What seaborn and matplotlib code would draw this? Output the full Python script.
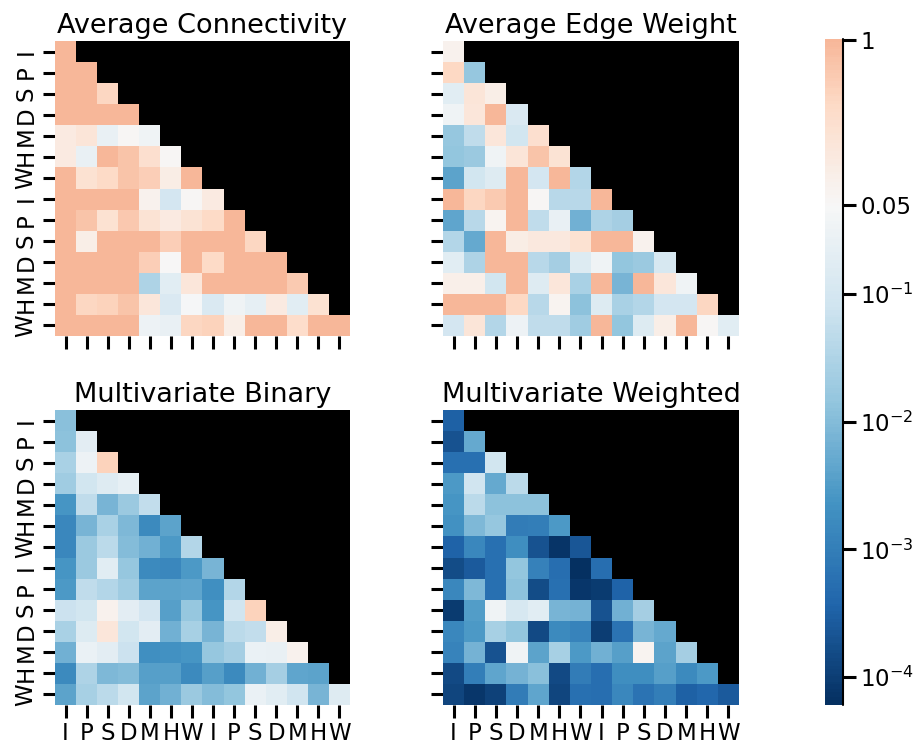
import numpy as np
import matplotlib
matplotlib.use("Agg")
import matplotlib.pyplot as plt
import seaborn as sns

sns.set_theme(context="talk", style="ticks")
plt.rcParams["font.family"] = ["DejaVu Sans"]
for key in ["text.color", "axes.labelcolor", "xtick.color", "ytick.color"]:
    plt.rcParams[key] = "black"

# Region labels along both axes (two hemispheres)
regions = ["I", "P", "S", "D", "M", "H", "W", "I", "P", "S", "D", "M", "H", "W"]

# Lower-triangle scores (colour-bar units), one list per row
avg_connectivity = [
    [1.0],
    [1.0, 1.0],
    [1.0, 1.0, 0.55],
    [1.0, 1.0, 1.0, 1.0],
    [0.05, 0.2, -0.6, -0.25, -0.45],
    [0.05, -0.6, 1.0, 0.8, 0.35, -0.25],
    [1.0, 0.3, 0.45, 0.8, 0.65, 0.0, 1.0],
    [1.0, 1.0, 1.0, 1.0, -0.15, -1.0, -0.25, 0.05],
    [1.0, 0.8, 0.3, 0.75, 0.25, 0.05, 0.25, 0.45, 1.0],
    [1.0, -0.05, 1.0, 1.0, 1.0, 0.65, 1.0, 1.0, 1.0, 0.55],
    [1.0, 1.0, 1.0, 1.0, 0.65, -0.3, 1.0, 0.45, 1.0, 1.0, 1.0],
    [1.0, 1.0, 1.0, 1.0, -1.5, -0.75, 0.15, 1.0, 1.0, 1.0, 1.0, 0.7],
    [1.0, 0.55, 0.6, 0.8, 0.15, -0.9, -0.35, -0.9, -0.45, -0.65, 0.05, -0.75, 0.3],
    [1.0, 1.0, 1.0, 1.0, -0.5, -0.6, 0.55, 0.6, -0.05, 1.0, 1.0, 0.4, 1.0, 1.0],
]

avg_edge_weight = [
    [-0.15],
    [0.5, -1.8],
    [-0.75, 0.2, -0.05],
    [-0.45, 0.15, 1.0, -0.9],
    [-1.8, -1.3, 0.15, -1.05, 0.35],
    [-1.85, -1.75, -0.45, 0.2, 0.8, 0.25],
    [-2.4, -1.05, -0.8, 1.0, -1.0, 1.0, -1.45],
    [1.0, 0.55, 0.7, 1.0, -0.25, -1.4, -1.4, 1.0],
    [-2.35, -1.4, -0.2, 1.0, -1.3, -0.6, -2.2, -1.5, -1.65],
    [-1.45, -2.3, 1.0, 0.0, 0.1, 0.1, 0.3, 1.0, 1.0, -0.15],
    [-0.75, -1.5, 1.0, 1.0, -1.4, -1.65, -0.85, -0.45, -1.85, -1.75, -0.95],
    [-0.1, -0.1, -1.05, 1.0, -0.8, 0.15, -1.55, 1.0, -2.1, 1.0, 0.15, -0.45],
    [1.0, 1.0, 1.0, 0.5, -1.4, -0.2, -1.9, -0.85, -1.55, -1.45, -1.0, -1.0, 0.55],
    [-1.0, 0.2, -1.45, -0.5, -1.3, -1.3, -1.7, 1.0, -1.85, -0.85, -0.05, 1.0, -0.25, -0.75],
]

mv_binary = [
    [-1.95],
    [-1.9, -0.7],
    [-1.55, -0.5, 0.6],
    [-1.7, -1.05, -0.8, -0.65],
    [-2.6, -1.3, -2.1, -1.75, -1.25],
    [-2.85, -2.1, -1.55, -2.05, -2.8, -2.4],
    [-2.85, -1.75, -1.35, -2.0, -2.2, -2.55, -1.45],
    [-2.6, -1.75, -0.75, -1.8, -2.8, -2.85, -2.55, -2.1],
    [-2.55, -1.3, -1.45, -1.7, -2.4, -2.4, -2.35, -2.7, -1.45],
    [-1.15, -1.05, -0.15, -0.7, -1.0, -2.45, -1.8, -2.6, -1.1, 0.6],
    [-1.55, -0.85, 0.15, -1.05, -0.7, -2.2, -1.6, -2.1, -1.35, -1.25, -0.05],
    [-2.2, -0.55, -0.7, -1.15, -2.7, -2.65, -2.6, -1.8, -1.65, -0.55, -0.6, -0.15],
    [-2.8, -1.5, -2.05, -2.0, -2.45, -2.45, -2.8, -2.45, -2.8, -2.2, -1.65, -2.35, -2.4],
    [-2.4, -1.6, -1.35, -1.05, -2.4, -2.2, -1.75, -2.0, -1.85, -0.55, -0.75, -1.1, -2.1, -0.8],
]

mv_weighted = [
    [-3.5],
    [-3.7, -2.3],
    [-3.25, -3.25, -1.05],
    [-2.55, -1.1, -2.3, -1.35],
    [-2.6, -1.35, -1.9, -1.9, -1.9],
    [-2.65, -2.05, -1.8, -3.05, -3.0, -2.55],
    [-3.45, -2.85, -3.25, -2.75, -3.7, -4.15, -3.65],
    [-3.8, -3.6, -3.25, -1.85, -2.95, -3.3, -4.2, -3.3],
    [-2.85, -2.05, -3.25, -1.9, -3.8, -3.25, -4.1, -4.05, -3.45],
    [-4.05, -2.5, -0.45, -0.95, -0.75, -2.1, -2.15, -3.7, -2.2, -1.65],
    [-2.85, -2.55, -1.6, -1.85, -3.85, -2.8, -2.9, -4.0, -3.2, -2.1, -2.3],
    [-2.9, -2.15, -3.7, -0.45, -2.4, -1.6, -2.55, -2.2, -2.45, -0.2, -2.4, -1.65],
    [-3.85, -3.0, -2.35, -2.15, -1.95, -3.85, -3.05, -3.3, -2.75, -2.75, -2.45, -2.8, -2.55],
    [-3.9, -4.1, -3.95, -3.05, -2.35, -3.9, -3.25, -3.3, -2.85, -3.2, -3.0, -3.5, -3.4, -3.6],
]

titles = ["Average Connectivity", "Average Edge Weight",
          "Multivariate Binary", "Multivariate Weighted"]

# Colour-bar tick positions and their labels
cbar_ticks = [0.99, -0.30, -1.0, -2.0, -3.0, -4.0]
cbar_labels = ["1", "0.05", r"$10^{-1}$", r"$10^{-2}$", r"$10^{-3}$", r"$10^{-4}$"]
vmin, vmax, center = -4.22, 1.0, -0.30


def to_matrix(rows):
    n = len(rows)
    m = np.full((n, n), np.nan)
    for i, r in enumerate(rows):
        m[i, :len(r)] = r
    return m


W, H = 920, 746
fig = plt.figure(figsize=(W / 100, H / 100), dpi=100)


def box(x0, y0, w, h):
    return [x0 / W, 1 - (y0 + h) / H, w / W, h / H]


axes_boxes = [box(55, 41, 295, 295), box(443, 41, 296, 295),
              box(55, 410, 295, 295), box(443, 410, 296, 295)]
cax = fig.add_axes(box(825, 39, 18, 666))

panels = [avg_connectivity, avg_edge_weight, mv_binary, mv_weighted]
for k, (rows, title, bx) in enumerate(zip(panels, titles, axes_boxes)):
    ax = fig.add_axes(bx)
    mat = to_matrix(rows)
    sns.heatmap(mat, ax=ax, cmap="RdBu_r", vmin=vmin, vmax=vmax, center=center,
                cbar=(k == 0), cbar_ax=cax if k == 0 else None,
                xticklabels=regions, yticklabels=regions, square=False)
    ax.set_facecolor("black")
    ax.set_title(title, fontsize=19.5)
    ax.tick_params(axis="both", length=9, width=2.2, labelsize=16.5)
    if k < 2:
        ax.set_xticklabels([])
    else:
        ax.set_xticklabels(regions, rotation=0)
    if k % 2 == 1:
        ax.set_yticklabels([])
    else:
        ax.set_yticklabels(regions, rotation=90, va="center")

cbar = fig.axes[1].collections[0].colorbar
cbar.set_ticks(cbar_ticks)
cbar.set_ticklabels(cbar_labels)
cax.tick_params(length=9, width=2.2, labelsize=16.5)
# thin black edge along the tick side of the colour bar
cax.plot([1, 1], [0, 1], transform=cax.transAxes, color="black",
         lw=1.5, clip_on=False)

fig.savefig("out.png", dpi=100)
